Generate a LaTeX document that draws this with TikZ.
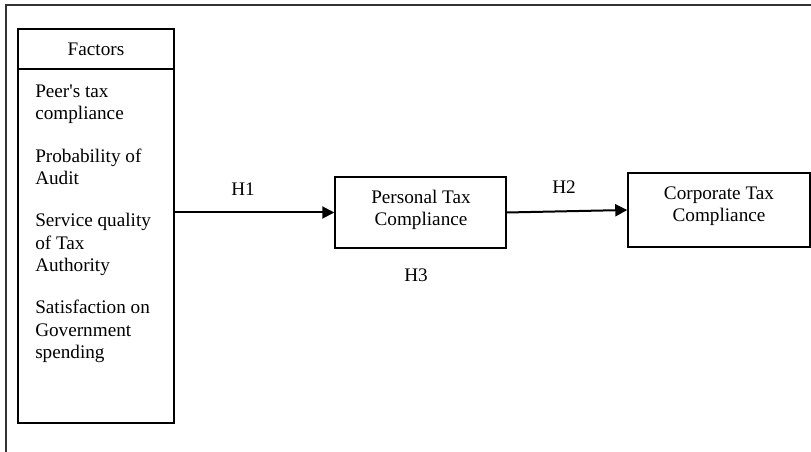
\documentclass[tikz,border=0pt]{standalone}
\usepackage{fontspec}
\setmainfont{Liberation Serif}[Ligatures=TeXOff]
\usetikzlibrary{arrows.meta}
\begin{document}
\begin{tikzpicture}[x=0.75pt,y=-0.75pt,
  txt/.style={font=\fontsize{14.4}{16.9}\selectfont, inner sep=0pt},
  item/.style={txt, anchor=base west, align=left},
  boxstyle/.style={draw, line width=1.1pt, inner sep=0pt},
  conn/.style={line width=1.5pt, -{Triangle[length=9pt,width=9pt]}},
  frameline/.style={line width=1pt, draw=black!80}]
\useasboundingbox (0,0) rectangle (811,452);
% outer frame (cropped)
\coordinate (ftl) at (6,5);
\coordinate (fbl) at (6,452);
\coordinate (ftr) at (811,5);
\draw[frameline] (fbl) -- (ftl) -- (ftr);
% factors box
\node[boxstyle, minimum width=117pt, minimum height=295.5pt] (fac) at (96,226) {};
\coordinate (hl) at (18,69);
\coordinate (hr) at (174,69);
\draw[line width=1.1pt] (hl) -- (hr);
\node[txt, anchor=base] (factors) at (96,56) {Factors};
\node[item] (i1) at (35,120) {Peer's tax\\compliance};
\node[item] (i2) at (35,185) {Probability of\\Audit};
\node[item] (i3) at (35,272) {Service quality\\of Tax\\Authority};
\node[item] (i4) at (35,359) {Satisfaction on\\Government\\spending};
% boxes
\node[boxstyle, minimum width=128.25pt, minimum height=53.25pt] (p) at (420.5,212.5) {};
\node[txt, anchor=base, align=center] (pt) at (421,226) {Personal Tax\\Compliance};
\node[boxstyle, minimum width=136.5pt, minimum height=55.5pt] (c) at (719,210) {};
\node[txt, anchor=base, align=center] (ct) at (719,222) {Corporate Tax\\Compliance};
% connectors
\draw[conn] (fac.east |- p.west) -- (p.west);
\draw[conn] (p.east) -- (c.west);
% labels
\node[txt, anchor=base] (h1) at (243,196) {H1};
\node[txt, anchor=base] (h2) at (564,194) {H2};
\node[txt, anchor=base] (h3) at (416,282) {H3};
\end{tikzpicture}
\end{document}
